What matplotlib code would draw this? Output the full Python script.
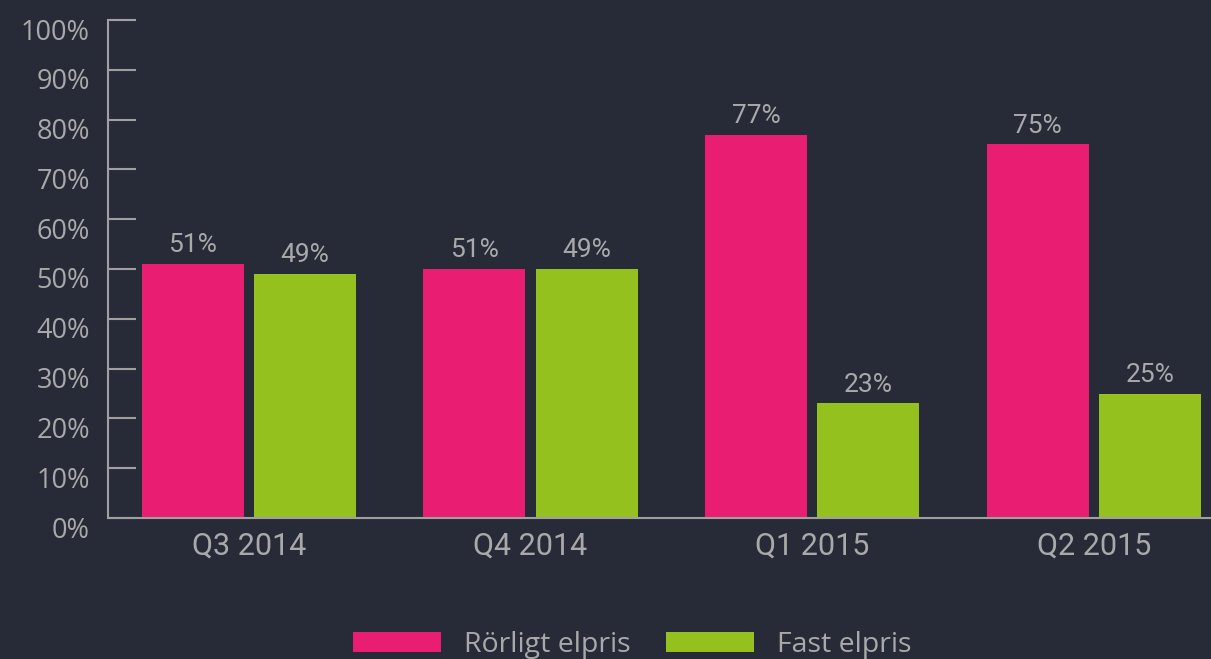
import matplotlib
matplotlib.use("Agg")
import matplotlib.pyplot as plt
import matplotlib.transforms as mtransforms
from matplotlib.patches import Patch
import numpy as np

categories = ["Q3 2014", "Q4 2014", "Q1 2015", "Q2 2015"]
rorligt = [51, 50, 77, 75]
fast = [49, 50, 23, 25]
rorligt_labels = ["51%", "51%", "77%", "75%"]
fast_labels = ["49%", "49%", "23%", "25%"]
yticks = [0, 10, 20, 30, 40, 50, 60, 70, 80, 90, 100]
ytick_labels = [f"{v}%" for v in yticks]
series_names = ["Rörligt elpris", "Fast elpris"]

BG = "#272b38"
PINK = "#e91e72"
GREEN = "#95c11f"
TXT = "#a9a9a9"
AX = "#a0a0a0"

fig = plt.figure(figsize=(12.11, 6.59), dpi=100, facecolor=BG)
ax = fig.add_axes([108/1211, 1 - 518/659, 1 - 108/1211, (518 - 20)/659])
ax.set_facecolor(BG)

x = np.arange(len(categories))
w = 0.362
off = 0.199
b1 = ax.bar(x - off, rorligt, w, color=PINK, zorder=2)
b2 = ax.bar(x + off, fast, w, color=GREEN, zorder=2)

for bars, labs in ((b1, rorligt_labels), (b2, fast_labels)):
    for bar, lab in zip(bars, labs):
        ax.annotate(lab, (bar.get_x() + bar.get_width()/2, bar.get_height()),
                    xytext=(0, 5), textcoords="offset points", ha="center", va="bottom",
                    color=TXT, fontsize=19, family="Roboto")

ax.set_xlim(-0.5, 3.416)
ax.set_ylim(0, 100)
ax.set_xticks(x)
ax.set_xticklabels(categories, family="Roboto", fontsize=22, color=TXT)
ax.tick_params(axis="x", length=0, pad=10)
ax.set_yticks(yticks)
ax.set_yticklabels(ytick_labels, family="Open Sans", fontsize=19.5, color=TXT)
ax.tick_params(axis="y", direction="in", length=20, width=1.5, color=AX, pad=13)

offset = mtransforms.ScaledTranslation(0, -9/100, fig.dpi_scale_trans)
for lab in ax.get_yticklabels():
    lab.set_transform(lab.get_transform() + offset)

for s in ("top", "right"):
    ax.spines[s].set_visible(False)
for s in ("left", "bottom"):
    ax.spines[s].set_color(AX)
    ax.spines[s].set_linewidth(1.5)
ax.spines["bottom"].set_zorder(3)

handles = [Patch(facecolor=PINK), Patch(facecolor=GREEN)]
leg = fig.legend(handles, series_names, loc="center", bbox_to_anchor=(0.522, 0.022),
                 ncol=2, frameon=False, handlelength=3.1, handleheight=0.7,
                 handletextpad=0.8, columnspacing=1.25,
                 prop={"family": "Open Sans", "size": 20.5})
for t in leg.get_texts():
    t.set_color(TXT)

fig.savefig("out.png", dpi=100, facecolor=BG)
